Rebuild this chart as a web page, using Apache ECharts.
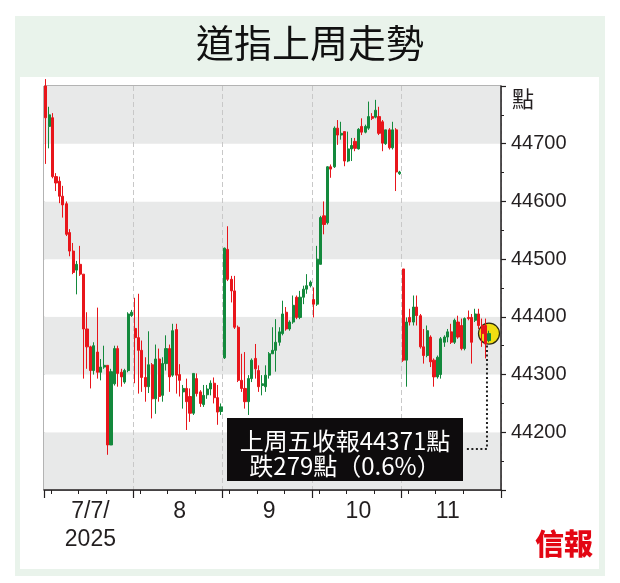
<!DOCTYPE html>
<html><head><meta charset="utf-8">
<script src="https://cdn.jsdelivr.net/npm/echarts@6/dist/echarts.min.js"></script>
<style>
html,body{margin:0;padding:0;background:#fff;}
#frame{position:absolute;left:15px;top:16px;width:590px;height:560px;background:#e9f3eb;}
#panel{position:absolute;left:20px;top:77px;width:579px;height:492px;background:#fff;}
#chart{position:absolute;left:0;top:0;width:620px;height:583px;}
</style></head><body>
<div id="frame"></div><div id="panel"></div><div id="chart"></div>
<script>
// ---- data (15-minute candles, [open, close, low, high]) ----
const days = ['7/7', '7/8', '7/9', '7/10', '7/11'];
const dayLabels = ['7/7/\n2025', '8', '9', '10', '11'];
const times = ['09:30','09:45','10:00','10:15','10:30','10:45','11:00','11:15','11:30','11:45',
  '12:00','12:15','12:30','12:45','13:00','13:15','13:30','13:45','14:00','14:15',
  '14:30','14:45','15:00','15:15','15:30','15:45'];
const yTicks = [44200, 44300, 44400, 44500, 44600, 44700];

const day1 = [
  [44800,44745,44665,44812],[44730,44750,44692,44764],[44745,44643,44640,44753],[44643,44632,44618,44649],
  [44635,44609,44597,44643],[44609,44594,44572,44627],[44596,44543,44540,44600],[44546,44514,44505,44552],
  [44514,44477,44474,44528],[44481,44491,44439,44497],[44491,44474,44471,44523],[44474,44379,44293,44474],
  [44379,44348,44310,44408],[44348,44307,44276,44350],[44307,44350,44300,44356],[44339,44304,44293,44416],
  [44304,44313,44290,44327],[44313,44316,44310,44350],[44316,44178,44161,44316],[44178,44305,44178,44310],
  [44284,44345,44281,44350],[44345,44302,44279,44350],[44304,44296,44279,44310],[44287,44307,44284,44310],
  [44307,44405,44304,44408],[44402,44408,44400,44412]
];
const day2 = [
  [44380,44364,44285,44433],[44364,44342,44267,44440],[44342,44295,44270,44359],[44295,44279,44253,44330],
  [44279,44317,44268,44375],[44317,44258,44224,44320],[44258,44327,44232,44352],[44327,44262,44253,44345],
  [44264,44319,44253,44330],[44319,44345,44307,44368],[44345,44296,44270,44352],[44299,44376,44296,44388],
  [44378,44299,44267,44388],[44300,44290,44262,44318],[44270,44276,44241,44282],[44276,44253,44204,44293],
  [44262,44233,44218,44276],[44233,44302,44230,44302],[44293,44267,44262,44302],[44270,44250,44244,44273],
  [44248,44264,44244,44282],[44265,44275,44258,44282],[44275,44285,44264,44290],[44285,44260,44250,44295],
  [44260,44235,44213,44282],[44236,44244,44230,44250]
];
const day3 = [
  [44329,44519,44327,44520],[44517,44465,44462,44557],[44465,44445,44425,44471],[44445,44382,44379,44471],
  [44382,44290,44287,44385],[44290,44276,44270,44336],[44276,44253,44241,44339],[44253,44293,44230,44299],
  [44293,44325,44287,44328],[44328,44310,44293,44353],[44307,44279,44270,44316],[44281,44284,44264,44299],
  [44279,44299,44270,44316],[44299,44336,44293,44339],[44336,44342,44336,44382],[44342,44356,44305,44396],
  [44356,44374,44350,44382],[44371,44405,44368,44428],[44408,44379,44376,44417],[44379,44391,44376,44394],
  [44391,44420,44388,44437],[44434,44399,44396,44437],[44399,44434,44396,44445],[44434,44448,44422,44454],
  [44448,44454,44440,44474],[44454,44460,44451,44463]
];
const day4 = [
  [44430,44422,44399,44451],[44422,44500,44419,44523],[44491,44572,44491,44575],[44575,44560,44543,44600],
  [44563,44660,44560,44661],[44660,44656,44641,44664],[44660,44727,44658,44730],[44727,44715,44698,44741],
  [44715,44718,44707,44738],[44721,44670,44661,44721],[44670,44691,44668,44721],[44691,44697,44670,44710],
  [44704,44692,44687,44710],[44691,44725,44690,44727],[44730,44720,44715,44744],[44720,44730,44718,44733],
  [44727,44747,44724,44773],[44747,44744,44741,44753],[44746,44758,44744,44776],[44747,44718,44715,44764],
  [44738,44701,44687,44741],[44700,44724,44698,44724],[44724,44693,44690,44727],[44693,44724,44690,44738],
  [44724,44651,44618,44727],[44648,44651,44646,44653]
];
const day5 = [
  [44483,44325,44322,44483],[44325,44391,44279,44399],[44399,44391,44385,44414],[44391,44417,44385,44437],
  [44417,44402,44385,44437],[44402,44348,44345,44405],[44348,44333,44319,44379],[44333,44376,44330,44385],
  [44365,44322,44313,44368],[44325,44296,44279,44328],[44296,44330,44293,44333],[44300,44362,44293,44365],
  [44356,44365,44348,44368],[44365,44374,44356,44379],[44374,44356,44353,44388],[44356,44394,44353,44397],
  [44391,44365,44362,44402],[44385,44345,44342,44397],[44345,44397,44342,44399],[44399,44397,44394,44411],
  [44399,44356,44319,44405],[44394,44405,44391,44414],[44405,44385,44379,44414],[44385,44371,44348,44397],
  [44385,44353,44328,44397],[44359,44371,44356,44376]
];
const lastClose = 44371;
const noteLines = ['上周五收報44371點', '跌279點（0.6%）'];
const padSlots = ['pad1', 'pad2', 'pad3'];

// ---- build ----
const perDay = times.length;
const candles = [].concat(day1, day2, day3, day4, day5);
const categories = [];
days.forEach(d => times.forEach(t => categories.push(d + ' ' + t)));
padSlots.forEach(p => categories.push(p));
const lastIdx = candles.length - 1;

const numFont = "'Liberation Sans', Arial, sans-serif";
const cjkFont = "'Noto Sans CJK TC', 'Noto Sans CJK SC', sans-serif";
const RED = '#e8151b', GREEN = '#13893c';

const chart = echarts.init(document.getElementById('chart'), null, {renderer: 'canvas'});
const option = {
  animation: false,
  backgroundColor: 'transparent',
  title: {
    text: '道指上周走勢', left: 'center', top: 19,
    textStyle: {fontFamily: cjkFont, fontSize: 38, fontWeight: 'normal', color: '#111'}
  },
  grid: {left: 44, right: 119, top: 86, bottom: 93, show: true, borderColor: '#666', borderWidth: 1, backgroundColor: 'transparent'},
  xAxis: [{
    type: 'category', data: categories, boundaryGap: true, position: 'bottom',
    axisLine: {show: true, lineStyle: {color: '#231f20', width: 1.5}},
    axisTick: {show: true, length: 8, lineStyle: {color: '#231f20', width: 1.2},
      interval: (i) => i % perDay === 0 && i < candles.length},
    axisLabel: {
      interval: (i) => i % perDay === 13 && i < candles.length,
      formatter: (v, i) => dayLabels[Math.floor(i / perDay)] || '',
      fontFamily: numFont, fontSize: 23, color: '#231f20', lineHeight: 28, margin: 8
    },
    splitLine: {show: true, interval: (i) => i % perDay === 0 && i > 0 && i < candles.length,
      lineStyle: {color: '#c8c8c8', width: 1, type: [5, 3]}},
    splitArea: {show: false}
  }, {
    type: 'category', data: categories, boundaryGap: true, position: 'bottom',
    axisLine: {show: false},
    axisTick: {show: true, length: 4, lineStyle: {color: '#231f20', width: 1},
      interval: (i) => [2, 10, 18].indexOf(i % perDay) >= 0 && i < candles.length},
    axisLabel: {show: false}, splitLine: {show: false}
  }],
  yAxis: {
    type: 'value', position: 'right', min: 44100, max: 44800, interval: 100, scale: true,
    axisLine: {show: true, lineStyle: {color: '#231f20', width: 1.5}},
    axisTick: {show: true, length: 5, lineStyle: {color: '#231f20', width: 1.2}},
    minorTick: {show: true, splitNumber: 2, length: 3, lineStyle: {color: '#231f20', width: 1}},
    axisLabel: {
      formatter: (v) => yTicks.indexOf(v) >= 0 ? String(v) : '',
      fontFamily: numFont, fontSize: 20, color: '#231f20', margin: 10
    },
    splitLine: {show: false},
    splitArea: {show: true, areaStyle: {color: ['#e8e9e9', '#ffffff']}}
  },
  series: [{
    type: 'scatter', xAxisIndex: 0, z: 1,
    data: [[categories[lastIdx], lastClose]],
    symbolSize: 21,
    itemStyle: {color: '#f1dd12', borderColor: '#2a2a10', borderWidth: 1.2, opacity: 1}
  }, {
    type: 'candlestick', xAxisIndex: 0, z: 3,
    data: candles,
    barWidth: 2.6,
    itemStyle: {color: GREEN, color0: RED, borderColor: GREEN, borderColor0: RED, borderWidth: 1}
  }]
};
chart.setOption(option);

const pt = chart.convertToPixel({xAxisIndex: 0, yAxisIndex: 0}, [categories[lastIdx], lastClose]);
const boxL = 227, boxT = 418, boxW = 236, boxH = 63;
const lineY = 449;
chart.setOption({
  graphic: [
    {type: 'rect', shape: {x: boxL, y: boxT, width: boxW, height: boxH}, style: {fill: '#0e0c0d'}, z: 10},
    {type: 'text', x: boxL + boxW / 2, y: boxT + 23, z: 11,
      style: {text: noteLines[0], fill: '#fff', font: '24px ' + cjkFont, textAlign: 'center', textVerticalAlign: 'middle'}},
    {type: 'text', x: boxL + boxW / 2, y: boxT + 48, z: 11,
      style: {text: noteLines[1], fill: '#fff', font: '24px ' + cjkFont, textAlign: 'center', textVerticalAlign: 'middle'}},
    {type: 'polyline', z: 9,
      shape: {points: [[pt[0] - 2, pt[1] + 12], [pt[0] - 2, lineY], [boxL + boxW + 2, lineY]]},
      style: {stroke: '#222', lineWidth: 2, lineDash: [2, 2.5], fill: null}},
    {type: 'text', x: 512, y: 88, z: 11,
      style: {text: '點', fill: '#231f20', font: '22px ' + cjkFont}},
    {type: 'text', x: 535, y: 529, z: 11,
      style: {text: '信報', fill: '#e30613', font: '900 29px ' + cjkFont}}
  ]
});
</script></body></html>
